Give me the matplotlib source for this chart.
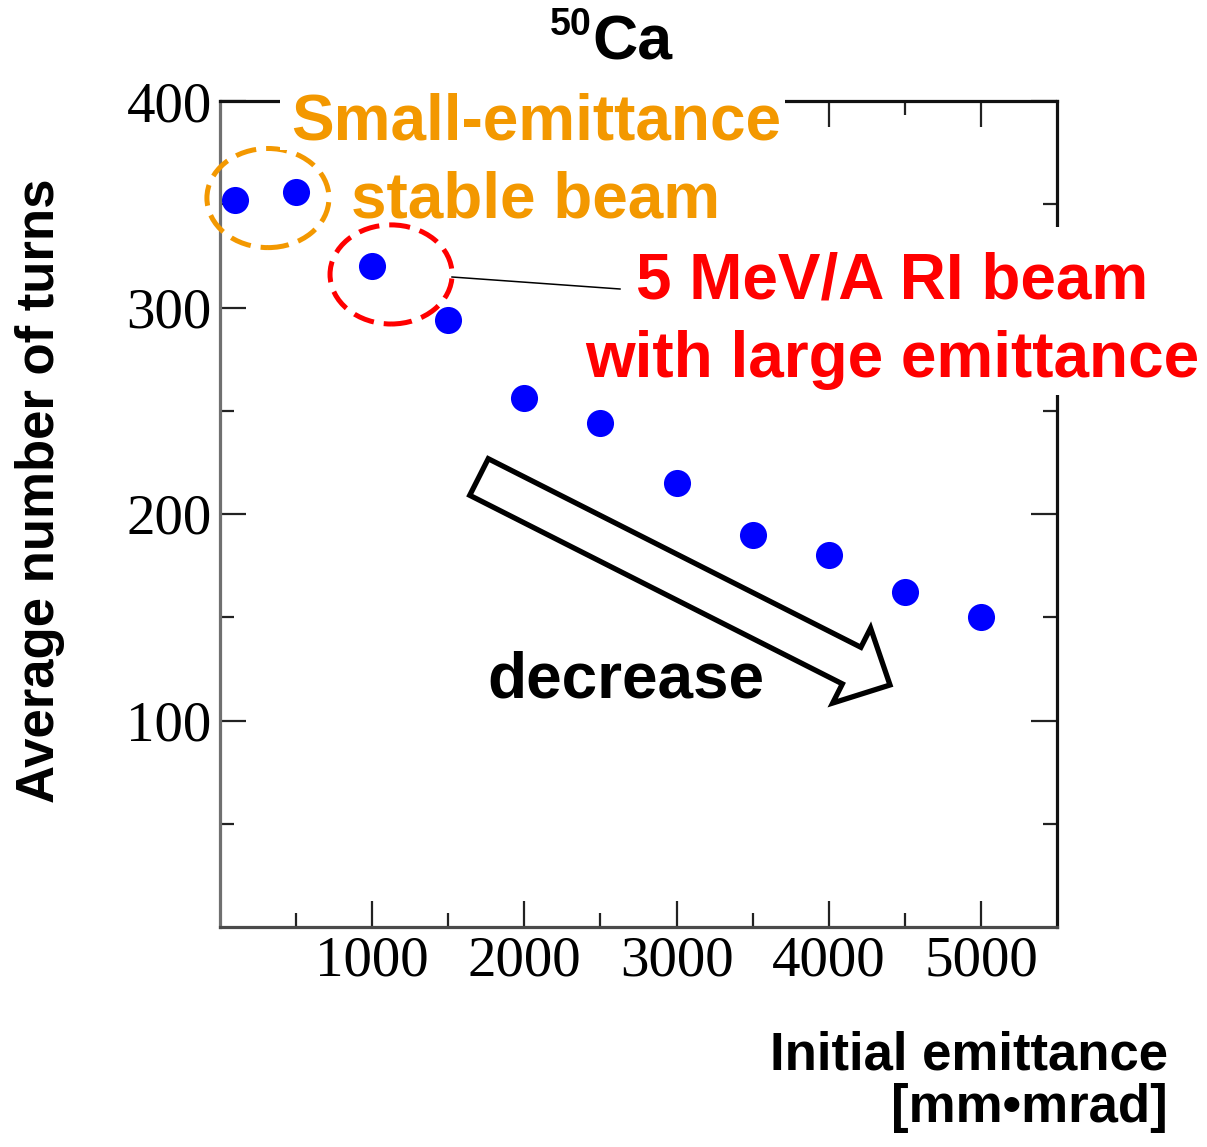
import matplotlib
matplotlib.use("Agg")
import matplotlib.pyplot as plt
from matplotlib.patches import Ellipse, Polygon, Rectangle
from matplotlib.lines import Line2D
import numpy as np

# data
emittance = [100, 500, 1000, 1500, 2000, 2500, 3000, 3500, 4000, 4500, 5000]
turns = [352, 356, 320, 294, 256, 244, 215, 190, 180, 162, 150]
x_ticks = [1000, 2000, 3000, 4000, 5000]
y_ticks = [100, 200, 300, 400]

W, H = 1207, 1147
fig = plt.figure(figsize=(W / 100, H / 100), dpi=100)


def px(x, y):
    # pixel position (from top-left) to figure fraction
    return x / W, 1 - y / H


def white_box(x0, y0, x1, y1):
    # white patch that hides the frame behind a label
    fx0, fy1 = px(x0, y0)
    fx1, fy0 = px(x1, y1)
    fig.add_artist(Rectangle((fx0, fy0), fx1 - fx0, fy1 - fy0, fc="white", ec="none",
                             transform=fig.transFigure, zorder=2))


ax = fig.add_axes([220 / W, 1 - 927 / H, (1057 - 220) / W, (927 - 101) / H])
ax.plot(emittance, turns, "o", color="#0000ff", ms=19.5, mec="none", clip_on=False, zorder=5)

ax.set_xlim(0, 5500)
ax.set_ylim(0, 400)
ax.set_xticks(x_ticks)
ax.set_yticks(y_ticks)
ax.set_xticks(np.arange(500, 5500, 1000), minor=True)
ax.set_yticks(np.arange(50, 400, 100), minor=True)
ax.tick_params(which="both", direction="in", top=True, right=True, width=1.6, colors="#222222")
ax.tick_params(which="major", length=19, labelsize=41, pad=6)
ax.tick_params(which="minor", length=10)
for lab in ax.get_xticklabels() + ax.get_yticklabels():
    lab.set_family("Liberation Serif")
    lab.set_color("black")
ax.spines["left"].set_color("#707070")
ax.spines["bottom"].set_color("#4a4a4a")
ax.spines["top"].set_color("#111111")
ax.spines["right"].set_color("#111111")
for s in ax.spines.values():
    s.set_linewidth(2.3)

bold = dict(family="Liberation Sans", weight="bold")
orange = "#f39800"
red = "#ff0000"

# title 50Ca
fig.text(*px(592, 60), "Ca", fontsize=45, ha="left", va="baseline", **bold)
fig.text(*px(592, 35), "50", fontsize=27, ha="right", va="baseline", **bold)

# axis labels
fig.text(*px(40, 491), "Average number of turns", fontsize=38, rotation=90,
         ha="center", va="center", **bold)
fig.text(*px(1168, 1070), "Initial emittance", fontsize=38, ha="right", va="baseline", **bold)
fig.text(*px(1168, 1122), "[mm\u2022mrad]", fontsize=38, ha="right", va="baseline", **bold)

# white patches behind the labels that cross the frame
white_box(280, 86, 785, 150)
white_box(630, 227, 1205, 310)
white_box(580, 310, 1205, 395)

# annotations
txt = dict(fontsize=46, ha="center", va="baseline", zorder=3, **bold)
fig.text(*px(536, 139), "Small-emittance", color=orange, **txt)
fig.text(*px(536, 218), "stable beam", color=orange, **txt)
fig.text(*px(892, 298), "5 MeV/A RI beam", color=red, **txt)
fig.text(*px(892, 377), "with large emittance", color=red, **txt)
fig.text(*px(626, 697), "decrease", color="black", **txt)

# dashed ellipses around the highlighted points
ax.add_patch(Ellipse((315, 353), 802, 48, fill=False, ec=orange, lw=3.6,
                     ls=(0, (4.2, 2.0)), clip_on=False, zorder=6))
ax.add_patch(Ellipse((1124, 316), 802, 48, fill=False, ec=red, lw=3.6,
                     ls=(0, (4.2, 2.0)), clip_on=False, zorder=6))

# connector line to the red label
x0, y0 = px(452, 277)
x1, y1 = px(620, 289)
fig.add_artist(Line2D([x0, x1], [y0, y1], color="black", lw=1.1, zorder=3))

# hollow block arrow
tail = np.array([479.0, 477.0])
tip = np.array([890.0, 685.0])
u = (tip - tail) / np.linalg.norm(tip - tail)
n = np.array([-u[1], u[0]])
half_shaft, half_head, head_len = 20.5, 42.0, 43.0
base = tip - head_len * u
verts = [tail + half_shaft * n, base + half_shaft * n, base + half_head * n, tip,
         base - half_head * n, base - half_shaft * n, tail - half_shaft * n]
verts = [px(*v) for v in verts]
fig.add_artist(Polygon(verts, closed=True, fc="white", ec="black", lw=3.8,
                       joinstyle="miter", transform=fig.transFigure, zorder=3))

fig.savefig("out.png", dpi=100)
